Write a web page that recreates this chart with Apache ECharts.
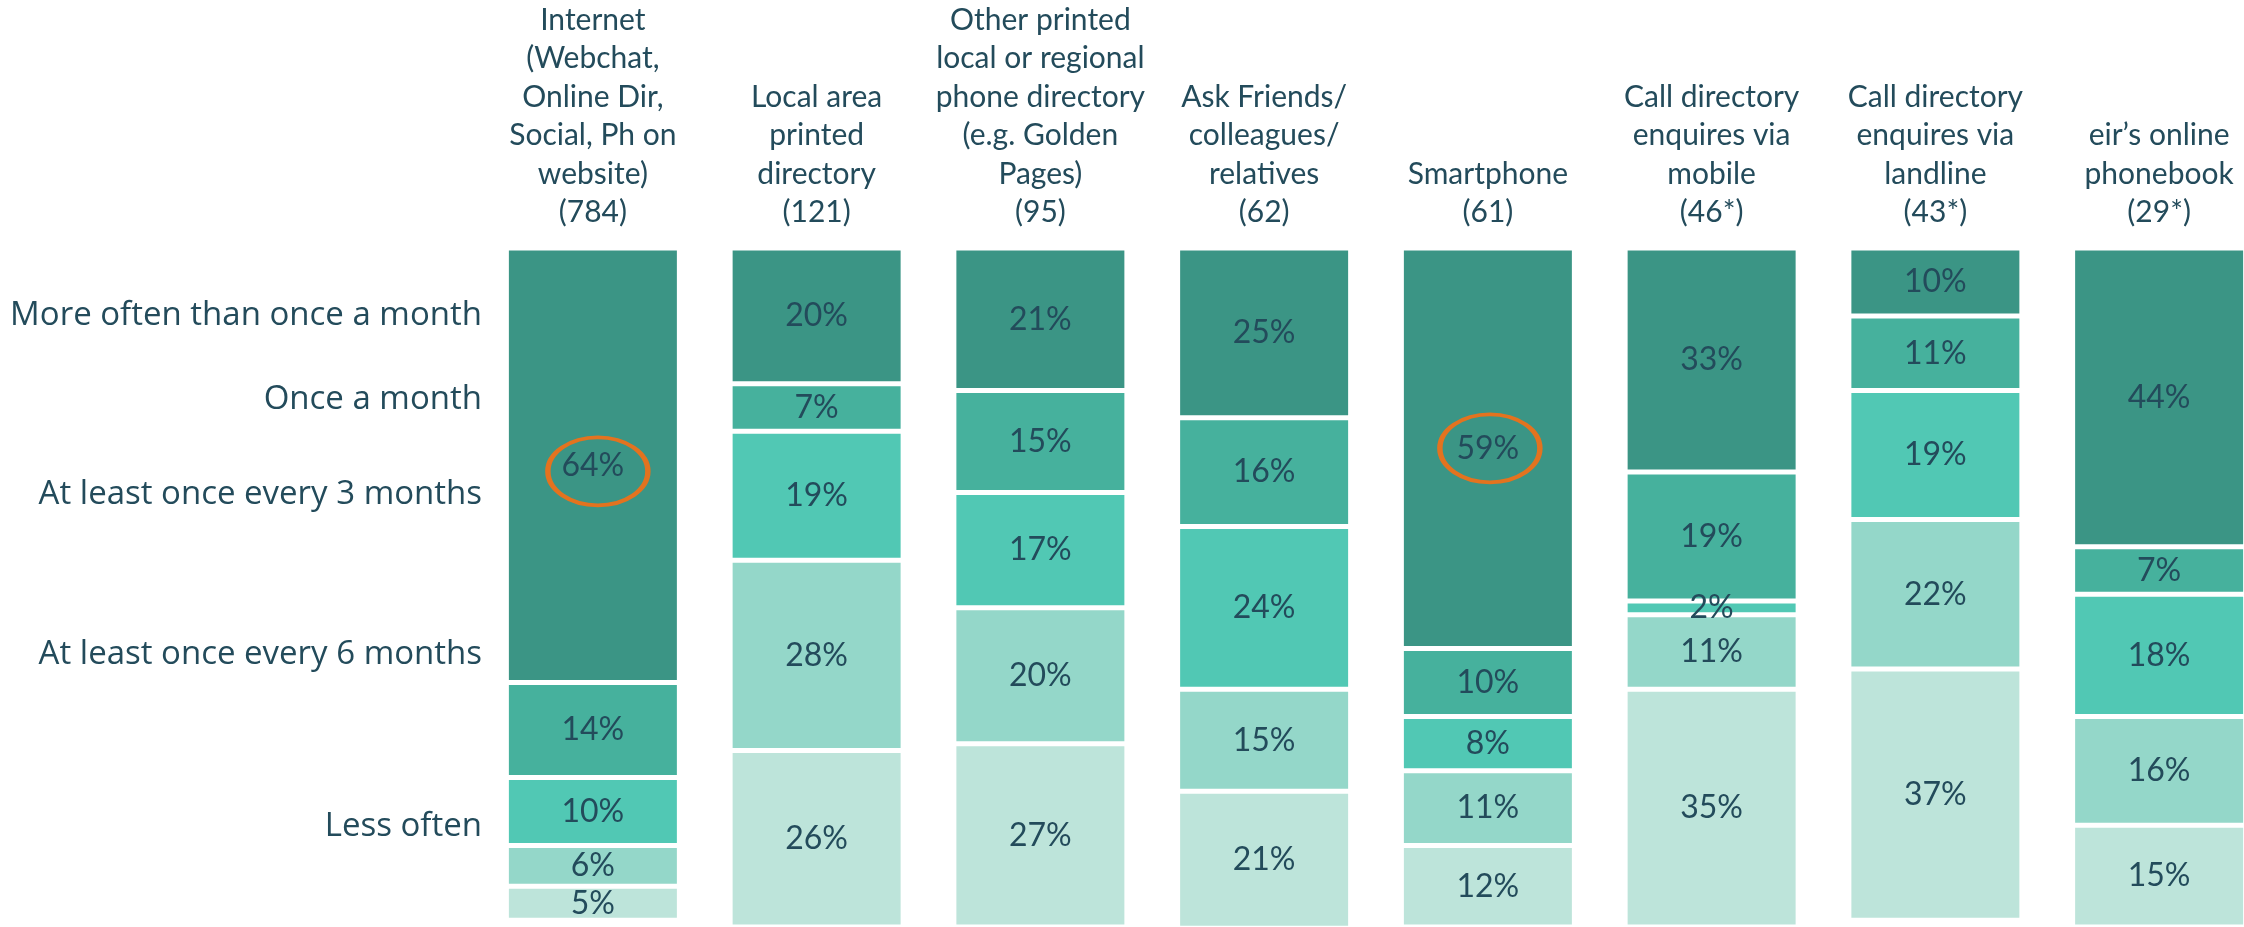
<!DOCTYPE html>
<html>
<head>
<meta charset="utf-8">
<script src="https://cdn.jsdelivr.net/npm/echarts@6/dist/echarts.min.js"></script>
<style>
  html, body { margin: 0; padding: 0; background: #ffffff; overflow: hidden; width: 2244px; height: 927px; }
  #chart { width: 2280px; height: 927px; }
</style>
</head>
<body>
<div id="chart"></div>
<script>
// ---- data ----
const categories = [
  "Internet\n(Webchat,\nOnline Dir,\nSocial, Ph on\nwebsite)\n(784)",
  "Local area\nprinted\ndirectory\n(121)",
  "Other printed\nlocal or regional\nphone directory\n(e.g. Golden\nPages)\n(95)",
  "Ask Friends/\ncolleagues/\nrelatives\n(62)",
  "Smartphone\n(61)",
  "Call directory\nenquires via\nmobile\n(46*)",
  "Call directory\nenquires via\nlandline\n(43*)",
  "eir\u2019s online\nphonebook\n(29*)"
];
const seriesNames = [
  "More often than once a month",
  "Once a month",
  "At least once every 3 months",
  "At least once every 6 months",
  "Less often"
];
const moreOften   = [64, 20, 21, 25, 59, 33, 10, 44];
const onceMonth   = [14,  7, 15, 16, 10, 19, 11,  7];
const every3      = [10, 19, 17, 24,  8,  2, 19, 18];
const every6      = [ 6, 28, 20, 15, 11, 11, 22, 16];
const lessOften   = [ 5, 26, 27, 21, 12, 35, 37, 15];
const highlighted = [0, 4]; // categories whose top value is circled

// ---- styles ----
const colors = ["#3B9585", "#46B19D", "#51C8B4", "#94D7C9", "#BDE4DA"];
const textColor = "#234B5B";
const allValues = [moreOften, onceMonth, every3, every6, lessOften];

const chart = echarts.init(document.getElementById('chart'), null, { renderer: 'canvas' });

const barSeries = allValues.map((vals, i) => ({
  name: seriesNames[i],
  type: 'bar',
  stack: 'total',
  barWidth: 173,
  data: vals,
  itemStyle: { color: colors[i], borderColor: '#ffffff', borderWidth: 2.5 },
  label: {
    show: true,
    position: 'inside',
    formatter: p => p.value + '%',
    color: textColor,
    fontFamily: 'Lato',
    fontSize: 32
  },
  emphasis: { disabled: true },
  animation: false
}));

const circleSeries = {
  type: 'scatter',
  symbol: 'circle',
  symbolSize: [100, 68],
  data: highlighted.map((c, k) => ({
    value: [c, moreOften[c] / 2],
    symbolOffset: k === 0 ? [5, 6] : [2, 0]
  })),
  itemStyle: { color: 'rgba(0,0,0,0)', borderColor: '#E3731F', borderWidth: 4.5, opacity: 1 },
  z: 10,
  silent: true,
  animation: false
};

const leftLabels = [
  { text: seriesNames[0], y: 316 },
  { text: seriesNames[1], y: 400 },
  { text: seriesNames[2], y: 495 },
  { text: seriesNames[3], y: 655 },
  { text: seriesNames[4], y: 827 }
];

chart.setOption({
  animation: false,
  backgroundColor: '#ffffff',
  grid: { left: 481, top: 248, width: 1790, height: 679, containLabel: false },
  xAxis: {
    type: 'category',
    position: 'top',
    data: categories,
    axisLine: { show: false },
    axisTick: { show: false },
    splitLine: { show: false },
    axisLabel: {
      interval: 0,
      margin: 16,
      color: textColor,
      fontFamily: 'Lato',
      fontSize: 30,
      lineHeight: 38.5,
      align: 'center'
    }
  },
  yAxis: {
    type: 'value',
    min: 0,
    max: 100,
    inverse: true,
    show: false
  },
  series: [...barSeries, circleSeries],
  graphic: leftLabels.map(l => ({
    type: 'text',
    x: 482,
    y: l.y,
    style: {
      text: l.text,
      fill: textColor,
      font: '33px "Open Sans"',
      textAlign: 'right',
      textVerticalAlign: 'middle'
    }
  }))
});
</script>
</body>
</html>
